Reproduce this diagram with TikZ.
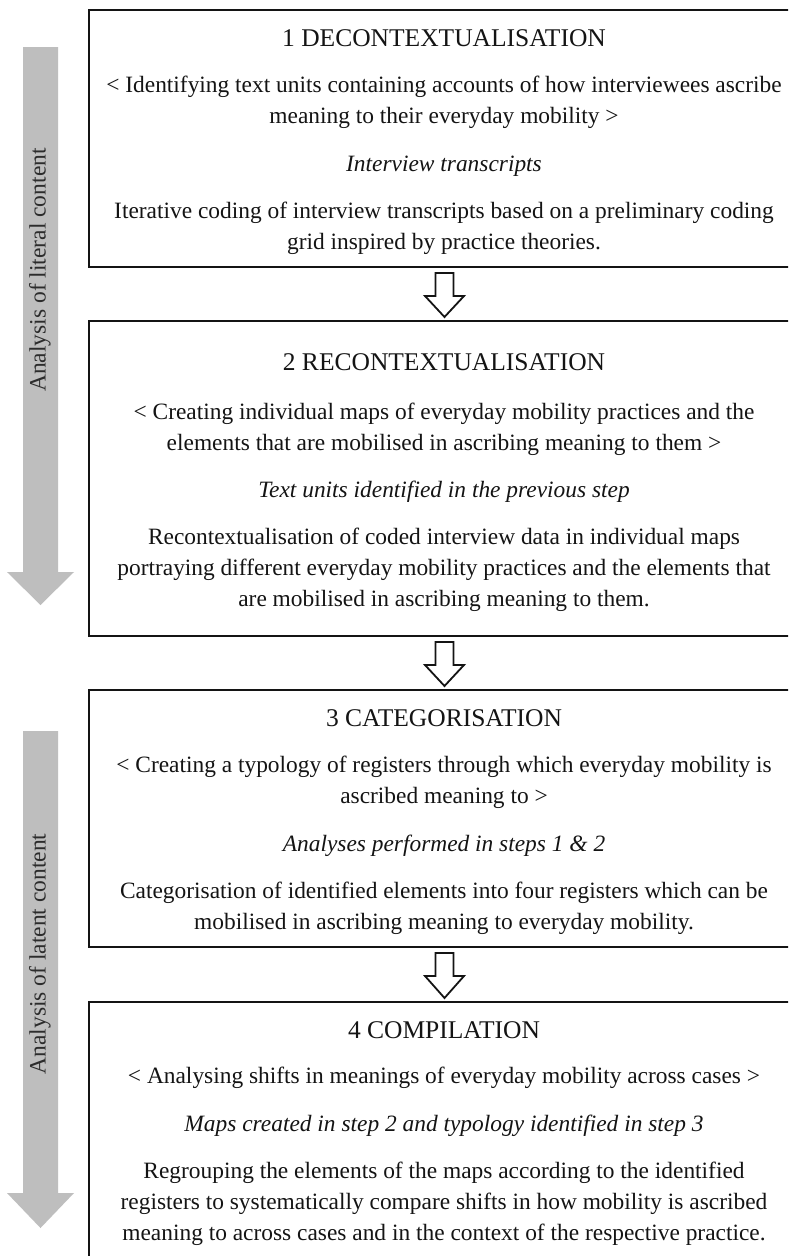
\documentclass[tikz,border=0pt]{standalone}
\usepackage{fontspec}
\setmainfont{Liberation Serif}
\usetikzlibrary{calc}
\definecolor{arrowgray}{RGB}{190,190,190}
\definecolor{ink}{RGB}{20,20,20}
\tikzset{
  stagebox/.style={draw=ink, line width=2.4pt, minimum width=711pt, inner sep=0pt, outer sep=0pt},
  ttl/.style={font=\fontsize{25.5}{31}\selectfont, text=ink, align=center, inner sep=0pt},
  body/.style={font=\fontsize{23.4}{31}\selectfont, text=ink, align=center, inner sep=0pt},
  emphline/.style={font=\fontsize{23.4}{31}\selectfont\itshape, text=ink, align=center, inner sep=0pt},
  harrow/.style={draw=ink, line width=1.8pt, fill=white, line join=miter},
  phase/.style={fill=arrowgray, draw=none},
  phaselabel/.style={rotate=90, font=\fontsize{23.5}{26}\selectfont, text=ink!90, inner sep=0pt}
}
\newcommand\hollowarrow[2]{%
  \draw[harrow] let \p1=(#1.south), \p2=(#2.north) in
    (\x1-9pt,\y1-6pt) -- (\x1+9pt,\y1-6pt) -- (\x1+9pt,\y1-29pt) -- (\x1+19.5pt,\y1-29pt)
    -- (\x1,\y2+4pt) -- (\x1-19.5pt,\y1-29pt) -- (\x1-9pt,\y1-29pt) -- cycle;}
\begin{document}
\begin{tikzpicture}[x=1pt,y=-1pt]
\useasboundingbox (0,0) rectangle (788,1256);
\fill[white] (0,0) rectangle (788,1256);
\clip (0,0) rectangle (788,1256);

% phase arrows
\fill[phase] (23,47) -- (58,47) -- (58,572) -- (74,572) -- (40.5,605) -- (7,572) -- (23,572) -- cycle;
\fill[phase] (23,731) -- (58,731) -- (58,1193) -- (74,1193) -- (40.5,1228) -- (7,1193) -- (23,1193) -- cycle;
\node[phaselabel] (p1) at (40,270) {Analysis of literal content};
\node[phaselabel] (p2) at (40,954) {Analysis of latent content};

% boxes
\node[stagebox, minimum height=257pt] (b1) at (444.5,138.5) {};
\node[stagebox, minimum height=315pt] (b2) at (444.5,478.5) {};
\node[stagebox, minimum height=257pt] (b3) at (444.5,818.5) {};
\node[stagebox, minimum height=278pt] (b4) at (444.5,1141) {};

% box 1
\node[ttl] (t1) at (444,38) {1 DECONTEXTUALISATION};
\node[body] (a1) at (444,102) {< Identifying text units containing accounts of how interviewees ascribe\\ meaning to their everyday mobility >};
\node[emphline] (i1) at (444,166) {Interview transcripts};
\node[body] (d1) at (444,228.5) {Iterative coding of interview transcripts based on a preliminary coding\\ grid inspired by practice theories.};

% box 2
\node[ttl] (t2) at (444,362) {2 RECONTEXTUALISATION};
\node[body] (a2) at (444,429.5) {< Creating individual maps of everyday mobility practices and the\\ elements that are mobilised in ascribing meaning to them >};
\node[emphline] (i2) at (444,492) {Text units identified in the previous step};
\node[body] (d2) at (444,570) {Recontextualisation of coded interview data in individual maps\\ portraying different everyday mobility practices and the elements that\\ are mobilised in ascribing meaning to them.};

% box 3
\node[ttl] (t3) at (444,718) {3 CATEGORISATION};
\node[body] (a3) at (444,782) {< Creating a typology of registers through which everyday mobility is\\ ascribed meaning to >};
\node[emphline] (i3) at (444,846) {Analyses performed in steps 1 \& 2};
\node[body] (d3) at (444,908.5) {Categorisation of identified elements into four registers which can be\\ mobilised in ascribing meaning to everyday mobility.};

% box 4
\node[ttl] (t4) at (444,1030) {4 COMPILATION};
\node[body] (a4) at (444,1078) {< Analysing shifts in meanings of everyday mobility across cases >};
\node[emphline] (i4) at (444,1126) {Maps created in step 2 and typology identified in step 3};
\node[body] (d4) at (444,1204) {Regrouping the elements of the maps according to the identified\\ registers to systematically compare shifts in how mobility is ascribed\\ meaning to across cases and in the context of the respective practice.};

% connectors
\hollowarrow{b1}{b2}
\hollowarrow{b2}{b3}
\hollowarrow{b3}{b4}
\end{tikzpicture}
\end{document}
